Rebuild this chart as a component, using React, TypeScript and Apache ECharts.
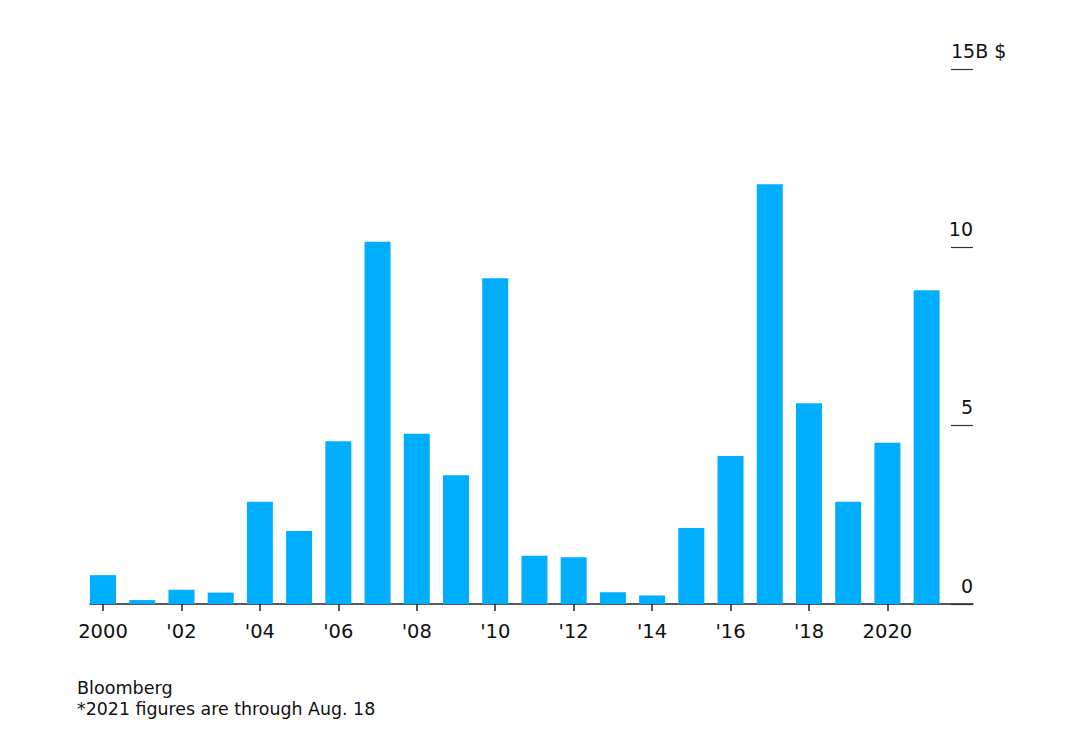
import React, { useEffect, useRef } from "react";
import * as echarts from "echarts";

const years = [2000, 2001, 2002, 2003, 2004, 2005, 2006, 2007, 2008, 2009, 2010, 2011, 2012, 2013, 2014, 2015, 2016, 2017, 2018, 2019, 2020, 2021];
const values = [0.81, 0.11, 0.4, 0.32, 2.87, 2.05, 4.56, 10.16, 4.77, 3.61, 9.13, 1.35, 1.31, 0.33, 0.24, 2.13, 4.15, 11.77, 5.63, 2.87, 4.52, 8.8];
const tickYears = [2000, 2002, 2004, 2006, 2008, 2010, 2012, 2014, 2016, 2018, 2020];
const yTicks = [0, 5, 10, 15];
const footerLines = ["Bloomberg", "*2021 figures are through Aug. 18"];

const FONT = "DejaVu Sans";

export default function App() {
  const ref = useRef<HTMLDivElement>(null);
  useEffect(() => {
    document.body.style.margin = "0";
    const chart = echarts.init(ref.current!, null, { renderer: "svg" });
    chart.setOption({
      animation: false,
      backgroundColor: "#ffffff",
      grid: { left: 90, right: 107, top: 69, bottom: 128, containLabel: false },
      xAxis: {
        type: "value",
        min: 1999.668,
        max: 2022.182,
        splitLine: { show: false },
        axisLine: { show: true, lineStyle: { color: "#222222", width: 1.5 } },
        axisTick: { show: true, length: 7, customValues: tickYears, lineStyle: { color: "#222222", width: 1.5 } },
        axisLabel: {
          customValues: tickYears,
          margin: 17,
          color: "#111111",
          fontFamily: FONT,
          fontSize: 19.5,
          formatter: (v: number) => (v === 2000 || v === 2020 ? String(v) : "'" + String(v).slice(2)),
        },
      },
      yAxis: {
        type: "value",
        position: "right",
        min: 0,
        max: 15,
        interval: 5,
        splitLine: { show: false },
        axisLine: { show: false },
        axisTick: { show: true, inside: true, length: 22, lineStyle: { color: "#333333", width: 1.2 } },
        axisLabel: {
          inside: true,
          margin: 22,
          align: "left",
          verticalAlign: "bottom",
          padding: [0, 0, 9, 0],
          color: "#111111",
          fontFamily: FONT,
          fontSize: 19,
          customValues: yTicks,
          formatter: (v: number) => (v === 15 ? "{t|15B $}" : "{r|" + String(v) + "}"),
          rich: {
            r: { width: 22, align: "right", fontFamily: FONT, fontSize: 19, color: "#111111" },
            t: { align: "left", fontFamily: FONT, fontSize: 19, color: "#111111" },
          },
        },
      },
      series: [
        {
          type: "bar",
          data: years.map((y, i) => [y, values[i]]),
          barWidth: 26,
          itemStyle: { color: "#00AEFF" },
          z: 1,
        },
      ],
      graphic: [
        {
          type: "text",
          left: 77,
          top: 679,
          style: { text: footerLines[0], fontFamily: FONT, fontSize: 17.6, fill: "#111111" },
        },
        {
          type: "text",
          left: 77,
          top: 700,
          style: { text: footerLines[1], fontFamily: FONT, fontSize: 17.4, fill: "#111111" },
        },
      ],
    });
    return () => chart.dispose();
  }, []);
  return <div ref={ref} style={{ width: 1080, height: 732 }} />;
}
